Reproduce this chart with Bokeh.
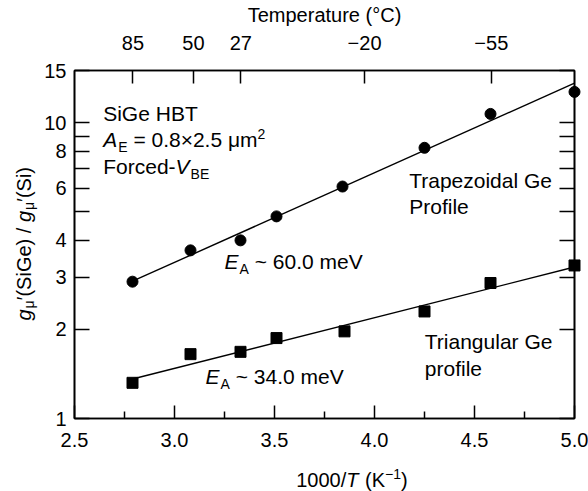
import math
from bokeh.plotting import figure
from bokeh.layouts import row, column
from bokeh.models import Range1d, LinearAxis, LogAxis, FixedTicker, Label, NumeralTickFormatter
from bokeh.embed import file_html
from bokeh.resources import INLINE

# ---------------- data ----------------
trap_x = [2.79, 3.08, 3.33, 3.51, 3.84, 4.25, 4.58, 5.00]
trap_y = [2.90, 3.70, 4.00, 4.82, 6.08, 8.22, 10.7, 12.7]
tri_x = [2.79, 3.08, 3.33, 3.51, 3.85, 4.25, 4.58, 5.00]
tri_y = [1.32, 1.65, 1.68, 1.87, 1.97, 2.30, 2.87, 3.29]
trap_fit_x = [2.79, 5.00]
trap_fit_y = [2.91, 13.6]
tri_fit_x = [2.79, 5.00]
tri_fit_y = [1.36, 3.25]

x_ticks = [2.5, 3.0, 3.5, 4.0, 4.5, 5.0]
x_minor = [2.75, 3.25, 3.75, 4.25, 4.75]
y_ticks = [1, 2, 3, 4, 5, 6, 7, 8, 9, 10, 15]
y_tick_labels = ["1", "2", "3", "4", "", "6", "", "8", "", "10", "15"]
temp_C = [85, 50, 27, -20, -55]
temp_labels = ["85", "50", "27", "\u221220", "\u221255"]

FONT = "Liberation Sans"
FS = 20      # tick labels / axis titles
AFS = 21     # annotations
SUB = 14

# geometry (canvas pixels)
W, H = 588, 491
YL_W = 41                      # strip holding the y title
FL, FT, FW, FH = 73, 70, 500, 348
FB = FT + FH
MAIN_H = 458                   # main figure height, x title strip below
XL_H = H - MAIN_H
BASE_FIX = 0.45                # label anchor correction (fraction of font size)

p = figure(frame_width=FW, frame_height=FH,
           x_range=Range1d(2.5, 5.0), y_range=Range1d(1, 15),
           y_axis_type="log", output_backend="svg", toolbar_location=None,
           min_border_left=FL - YL_W, min_border_right=W - FL - FW,
           min_border_top=FT, min_border_bottom=MAIN_H - FB)
p.grid.visible = False
p.outline_line_color = "black"
p.outline_line_width = 1.6

# bottom axis
xa = p.xaxis[0]
xa.ticker = FixedTicker(ticks=x_ticks, minor_ticks=x_minor)
xa.formatter = NumeralTickFormatter(format="0.0")
# left axis
ya = p.yaxis[0]
ya.ticker = FixedTicker(ticks=y_ticks, minor_ticks=[])
ya.major_label_overrides = {t: l for t, l in zip(y_ticks, y_tick_labels)}
# right axis
ra = LogAxis(ticker=FixedTicker(ticks=y_ticks, minor_ticks=[]),
             major_label_overrides={t: "" for t in y_ticks})
p.add_layout(ra, "right")
# top axis (temperature)
temp_pos = [1000.0 / (t + 273.15) for t in temp_C]
ta = LinearAxis(ticker=FixedTicker(ticks=temp_pos, minor_ticks=[]),
                major_label_overrides={v: l for v, l in zip(temp_pos, temp_labels)},
                axis_label="Temperature (\u00b0C)")
p.add_layout(ta, "above")

for ax in [xa, ya, ra, ta]:
    ax.axis_line_color = "black"
    ax.axis_line_width = 1.6
    ax.major_tick_line_color = "black"
    ax.major_tick_line_width = 1.5
    ax.minor_tick_line_color = "black"
    ax.minor_tick_line_width = 1.5
    ax.major_tick_out = 0
    ax.minor_tick_out = 0
    ax.minor_tick_in = 0
    ax.major_label_text_font = FONT
    ax.major_label_text_font_size = f"{FS}px"
    ax.major_label_text_color = "black"
    ax.axis_label_text_font = FONT
    ax.axis_label_text_font_size = f"{FS}px"
    ax.axis_label_text_font_style = "normal"
    ax.axis_label_text_color = "black"

xa.major_tick_in = 13
xa.minor_tick_in = 7
xa.major_label_standoff = 14
ya.major_tick_in = 15
ya.major_label_standoff = 8
ra.major_tick_in = 15
ta.major_tick_in = 13
ta.major_label_standoff = 21
ta.axis_label_standoff = 7

# data
p.line(trap_fit_x, trap_fit_y, line_color="black", line_width=1.4)
p.line(tri_fit_x, tri_fit_y, line_color="black", line_width=1.4)
r1 = p.scatter(trap_x, trap_y, marker="circle", size=11, fill_color="black", line_color="black")
r2 = p.scatter(tri_x, tri_y, marker="square", size=11, fill_color="black", line_color="black")
r1.level = "overlay"
r2.level = "overlay"


def text_strip(w, h):
    f = figure(width=w, height=h, x_range=Range1d(0, w), y_range=Range1d(0, h),
               output_backend="svg", toolbar_location=None,
               x_axis_location=None, y_axis_location=None,
               min_border=0, min_border_left=0, min_border_right=0,
               min_border_top=0, min_border_bottom=0)
    f.grid.visible = False
    f.outline_line_color = None
    return f


yfig = text_strip(YL_W, H)
xfig = text_strip(W - YL_W, XL_H)

# ------------- rich text helpers -------------
WID = {' ': 278, '\u00a0': 278, '(': 333, ')': 333, '/': 278, '.': 278, '-': 333, '~': 584,
       '=': 584, '\u00d7': 584, '\u2032': 191, '\u03bc': 576, '\u2212': 584,
       'A': 667, 'B': 667, 'E': 667, 'F': 611, 'G': 778, 'H': 722, 'K': 667, 'P': 667,
       'S': 667, 'T': 611, 'V': 667,
       'a': 556, 'c': 500, 'd': 556, 'e': 556, 'f': 278, 'g': 556, 'i': 222, 'l': 222,
       'm': 833, 'n': 556, 'o': 556, 'p': 556, 'r': 333, 't': 278, 'u': 556, 'z': 500}


def tw(s, size):
    return sum(WID.get(c, 556) for c in s) / 1000.0 * size


def run(fig, ox, oyb, x, y, pieces, vertical=False):
    """pieces: (text, style, size, dy); x,y = canvas pixels of the baseline start.
    ox / oyb = canvas x of the target frame's left edge / canvas y of its bottom edge."""
    pos = x if not vertical else y
    for text, style, size, dy in pieces:
        shown = text.replace(" ", "\u00a0")
        fix = BASE_FIX * size
        if not vertical:
            lx, ly, ang = pos - ox, oyb - (y + dy - fix), 0
        else:
            lx, ly, ang = (x + dy - fix) - ox, oyb - pos, math.pi / 2
        fig.add_layout(Label(x=lx, y=ly, x_units="screen", y_units="screen", text=shown,
                             angle=ang, text_font=FONT, text_font_size=f"{size}px",
                             text_font_style=style, text_color="black",
                             text_baseline="alphabetic", text_align="left"))
        adv = tw(text, size) + (1 if style == "italic" else 0)
        pos = pos + adv if not vertical else pos - adv


N, I = "normal", "italic"
M = (p, FL, FB)
run(*M, 101.7, 122, [("SiGe HBT", N, AFS, 0)])
run(*M, 101.7, 148, [("A", I, AFS, 0), ("E", N, SUB, 5), (" = 0.8\u00d72.5 \u03bcm", N, AFS, 0), ("2", N, SUB, -8)])
run(*M, 101.7, 175, [("Forced-", N, AFS, 0), ("V", I, AFS, 0), ("BE", N, SUB, 5)])
run(*M, 223, 270, [("E", I, AFS, 0), ("A", N, SUB, 5), (" ~ 60.0 meV", N, AFS, 0)])
run(*M, 204, 385, [("E", I, AFS, 0), ("A", N, SUB, 5), (" ~ 34.0 meV", N, AFS, 0)])
run(*M, 407.7, 189, [("Trapezoidal Ge", N, AFS, 0)])
run(*M, 407.7, 215, [("Profile", N, AFS, 0)])
run(*M, 423.3, 350, [("Triangular Ge", N, AFS, 0)])
run(*M, 423.3, 377, [("profile", N, AFS, 0)])
run(xfig, YL_W, H, 262.7, 488, [("1000/", N, FS, 0), ("T", I, FS, 0), (" (K", N, FS, 0),
                                 ("\u22121", N, SUB, -8), (")", N, FS, 0)])
run(yfig, 0, H, 32, 320, [("g", I, FS, 0), ("\u03bc", N, SUB, 3), ("\u2032(SiGe) / ", N, FS, 0),
                          ("g", I, FS, 0), ("\u03bc", N, SUB, 3), ("\u2032(Si)", N, FS, 0)],
    vertical=True)

layout = row(yfig, column(p, xfig, spacing=0), spacing=0)
open("out.html", "w").write(file_html(layout, INLINE))
